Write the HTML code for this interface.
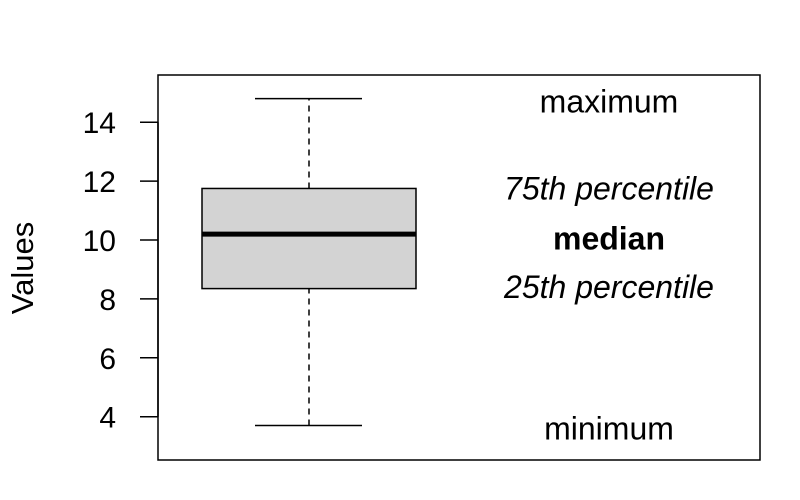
<!DOCTYPE html>
<html>
<head>
<meta charset="utf-8">
<style>
html,body{margin:0;padding:0;background:#fff;}
svg{display:block;font-family:"Liberation Sans",Arial,sans-serif;}
</style>
</head>
<body>
<svg id="chart" width="800" height="500" viewBox="0 0 800 500" xmlns="http://www.w3.org/2000/svg">
  <rect x="158" y="75" width="602" height="385" fill="none" stroke="#000" stroke-width="1.5"/>
  <g id="yaxis"></g>
  <g id="box"></g>
  <g id="notes"></g>
  <text transform="translate(33,268) rotate(-90)" text-anchor="middle" font-size="31">Values</text>
</svg>
<script>
const yTicks = [4, 6, 8, 10, 12, 14];
const stats = [3.7, 8.35, 10.2, 11.75, 14.8]; // min, q1, median, q3, max
const noteLabels = ["minimum", "25th percentile", "median", "75th percentile", "maximum"];
const noteValues = [3.6, 8.4, 10.05, 11.75, 14.7];

const NS = "http://www.w3.org/2000/svg";
function y(v){ return 240 - (v - 10) * 29.45; }
function mk(tag, attrs, parent){
  const e = document.createElementNS(NS, tag);
  for (const k in attrs) e.setAttribute(k, attrs[k]);
  parent.appendChild(e);
  return e;
}
const ya = document.getElementById('yaxis');
const axLine = mk('line', {x1:158, x2:158, y1:y(yTicks[0]), y2:y(yTicks[yTicks.length-1]), stroke:'#000','stroke-width':1.5}, ya);


yTicks.forEach(t => {
  const l = mk('line', {x1:140, x2:158, y1:y(t), y2:y(t), stroke:'#000','stroke-width':1.5}, ya);
  
  
  const tx = mk('text', {x:116, y:y(t)+11, 'text-anchor':'end', 'font-size':30}, ya);
  tx.textContent = t;
  
  
});

const bx = document.getElementById('box');
const cx = 309, bl = 202, br = 416, cl = 255, cr = 362;
const w1 = mk('line', {x1:cx, x2:cx, y1:y(stats[0]), y2:y(stats[1]), stroke:'#000','stroke-width':1.5,'stroke-dasharray':'6,5'}, bx);


const w2 = mk('line', {x1:cx, x2:cx, y1:y(stats[3]), y2:y(stats[4]), stroke:'#000','stroke-width':1.5,'stroke-dasharray':'6,5'}, bx);


const c1 = mk('line', {x1:cl, x2:cr, y1:y(stats[0]), y2:y(stats[0]), stroke:'#000','stroke-width':1.5}, bx);


const c2 = mk('line', {x1:cl, x2:cr, y1:y(stats[4]), y2:y(stats[4]), stroke:'#000','stroke-width':1.5}, bx);


const r = mk('rect', {x:bl, y:y(stats[3]), width:br-bl, height:y(stats[1])-y(stats[3]), fill:'#d3d3d3', stroke:'#000','stroke-width':1.5}, bx);


const m = mk('line', {x1:bl, x2:br, y1:y(stats[2]), y2:y(stats[2]), stroke:'#000','stroke-width':5}, bx);



const nt = document.getElementById('notes');
noteLabels.forEach((lab, i) => {
  const a = {x:609, y:y(noteValues[i])+11, 'text-anchor':'middle', 'font-size':32};
  if (i === 1 || i === 3) a['font-style'] = 'italic';
  if (i === 2) a['font-weight'] = 'bold';
  const t = mk('text', a, nt);
  t.textContent = lab;
  
  
});
</script>
</body>
</html>
